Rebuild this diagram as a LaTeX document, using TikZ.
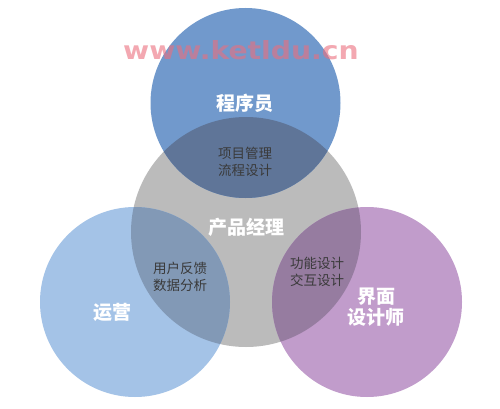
\documentclass[tikz,border=0pt]{standalone}
\usepackage{fontspec}
\newfontfamily\cjk{Noto Sans CJK SC}
\newfontfamily\wmfont{DejaVu Sans}
\definecolor{topblue}{HTML}{7199CC}
\definecolor{topov}{HTML}{5F7598}
\definecolor{midgray}{HTML}{BBBBBB}
\definecolor{leftblue}{HTML}{A4C3E7}
\definecolor{leftov}{HTML}{8299B6}
\definecolor{rightpur}{HTML}{C19CCB}
\definecolor{rightov}{HTML}{967CA0}
\definecolor{wmpink}{RGB}{235,110,125}
\definecolor{smalltext}{HTML}{3A3A3A}
\tikzset{
  bigtxt/.style={text=white, font=\cjk\bfseries\fontsize{19}{22}\selectfont, align=center, inner sep=0pt},
  smalltxt/.style={text=smalltext, font=\cjk\fontsize{13.5}{17}\selectfont, align=center, inner sep=0pt},
}
\begin{document}
\begin{tikzpicture}[x=1pt,y=-1pt]
\useasboundingbox (0,0) rectangle (500,409);
\fill[white] (0,0) rectangle (500,409);
% circles
\fill[midgray] (246,232) circle (115);
\fill[topblue] (245.5,103) circle (95);
\fill[leftblue] (135,302) circle (95);
\fill[rightpur] (367,302) circle (95);
% overlaps
\begin{scope}
  \clip (246,232) circle (115);
  \fill[topov] (245.5,103) circle (95);
  \fill[leftov] (135,302) circle (95);
  \fill[rightov] (367,302) circle (95);
\end{scope}
% labels
\node[bigtxt] (prog) at (245,103) {程序员};
\node[smalltxt] (pm1) at (245,162) {项目管理\\流程设计};
\node[bigtxt] (pm) at (246,227) {产品经理};
\node[smalltxt] (op1) at (180,277) {用户反馈\\数据分析};
\node[smalltxt] (ui1) at (317,271.5) {功能设计\\交互设计};
\node[bigtxt] (op) at (112,312) {运营};
\node[bigtxt, font=\cjk\bfseries\fontsize{19}{21}\selectfont] (ui) at (376,307.5) {界面\\设计师};
% watermark
\begin{scope}[shift={(241,50)}, xscale=1.13]
  \node[transform shape, text=wmpink, opacity=0.6, font=\wmfont\bfseries\fontsize{25}{25}\selectfont, inner sep=0pt] (wm) at (0,0) {www.ketldu.cn};
\end{scope}
\end{tikzpicture}
\end{document}
